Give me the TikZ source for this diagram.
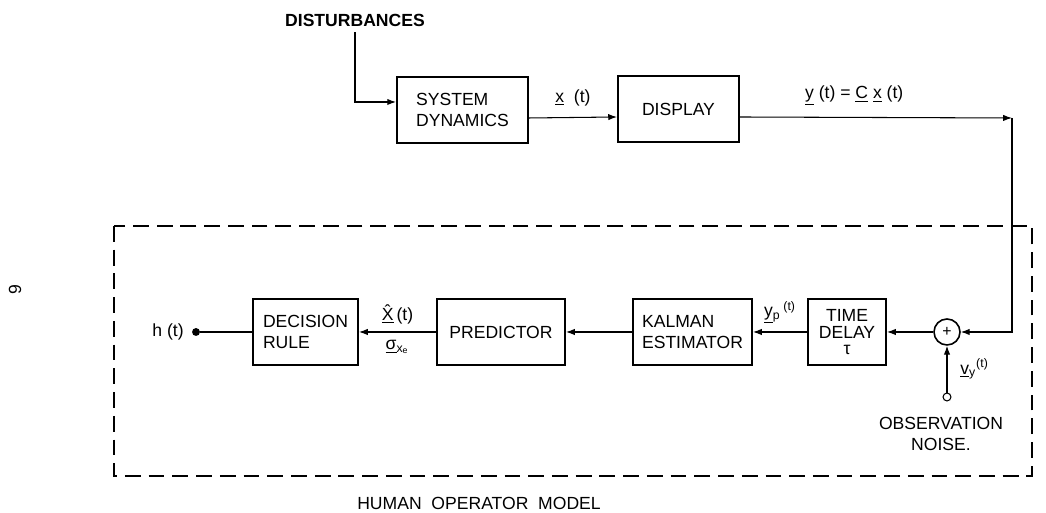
\documentclass[tikz,border=0pt]{standalone}
\usepackage{amsmath}
\usepackage{fontspec}
\setmainfont{Liberation Sans}
\usetikzlibrary{arrows.meta, positioning, calc}
\tikzset{
  block/.style={draw, line width=1.1pt, minimum height=1.32cm, align=left, inner sep=2pt},
  sumnode/.style={draw, circle, line width=0.9pt, minimum size=0.52cm, inner sep=0pt},
  sig/.style={line width=0.6pt, -{Latex[length=5pt,width=3.6pt]}},
  wire/.style={line width=0.6pt},
  frame/.style={line width=0.7pt, dash pattern=on 9pt off 4.5pt},
}

\begin{document}
\begin{tikzpicture}
                    \useasboundingbox (0,0) rectangle (20.92,10.26);
                    \node[font=\bfseries] (dist) at (7.1,9.86) {DISTURBANCES};
                    \node[block, minimum width=2.62cm] (sysdyn) at (9.25,8.06) {SYSTEM\\DYNAMICS};
                    \node[block, minimum width=2.42cm] (display) at (13.57,8.08) {DISPLAY};
                    \coordinate (corner) at (20.24,7.9);
                    \draw[frame] (2.28,5.74) rectangle (20.64,0.74);
                    \node[block, minimum width=2.1cm] (decision) at (6.11,3.62) {DECISION\\RULE};
                    \node[block, minimum width=2.56cm] (predictor) at (10.02,3.62) {PREDICTOR};
                    \node[block, minimum width=2.38cm] (kalman) at (13.85,3.62) {KALMAN\\ESTIMATOR};
                    \node[block, minimum width=1.56cm, align=center] (delay) at (16.94,3.62) {TIME\\[-2pt]DELAY\\[-3pt]τ};
                    \node[sumnode] (sum) at (18.94,3.62) {\small +};
                    \node[circle, draw, line width=0.6pt, inner sep=0pt, minimum size=4.5pt] (noise) at (18.94,2.32) {};
                    \node[align=center] (obs) at (18.82,1.58) {OBSERVATION\\NOISE.};
                    \node[circle, fill, inner sep=0pt, minimum size=4.5pt] (hdot) at (3.92,3.62) {};
                    \node[left=1pt of hdot] (hlbl) {h (t)};
                    \node (hom) at (9.58,0.2) {HUMAN\ \ OPERATOR\ \ MODEL};
                    \node[rotate=90] (pagenum) at (0.3,4.46) {9};
                    \draw[sig] (dist.south) |- ([yshift=0.16cm]sysdyn.west);
                    \draw[sig] ([yshift=-0.16cm]sysdyn.east) -- node[above=3pt] {\underline{x}\ \ (t)} ([yshift=-0.16cm]display.west);
                    \draw[sig] ([yshift=-0.16cm]display.east) -- node[above=3pt, pos=0.42] {\underline{y} (t) = \underline{C} \underline{x} (t)} (corner);
                    \draw[sig] (corner) |- (sum.east);
                    \draw[sig] (noise) -- node[right=4pt] {\underline{v}$_{\text{y}}$$^{\text{(t)}}$} (sum.south);
                    \draw[sig] (sum.west) -- (delay.east);
                    \draw[sig] (delay.west) -- node[above=1pt] {\underline{y}$_{\text{p}}$\,$^{\text{(t)}}$} (kalman.east);
                    \draw[sig] (kalman.west) -- (predictor.east);
                    \draw[sig] (predictor.west) -- node[above=1pt] {\underline{\^{X}}\,(t)} node[below=1pt] {\underline{σ}$_{\text{x}_{\text{e}}}$} (decision.east);
                    \draw[wire] (hdot) -- (decision.west);
                  \end{tikzpicture}
\end{document}
